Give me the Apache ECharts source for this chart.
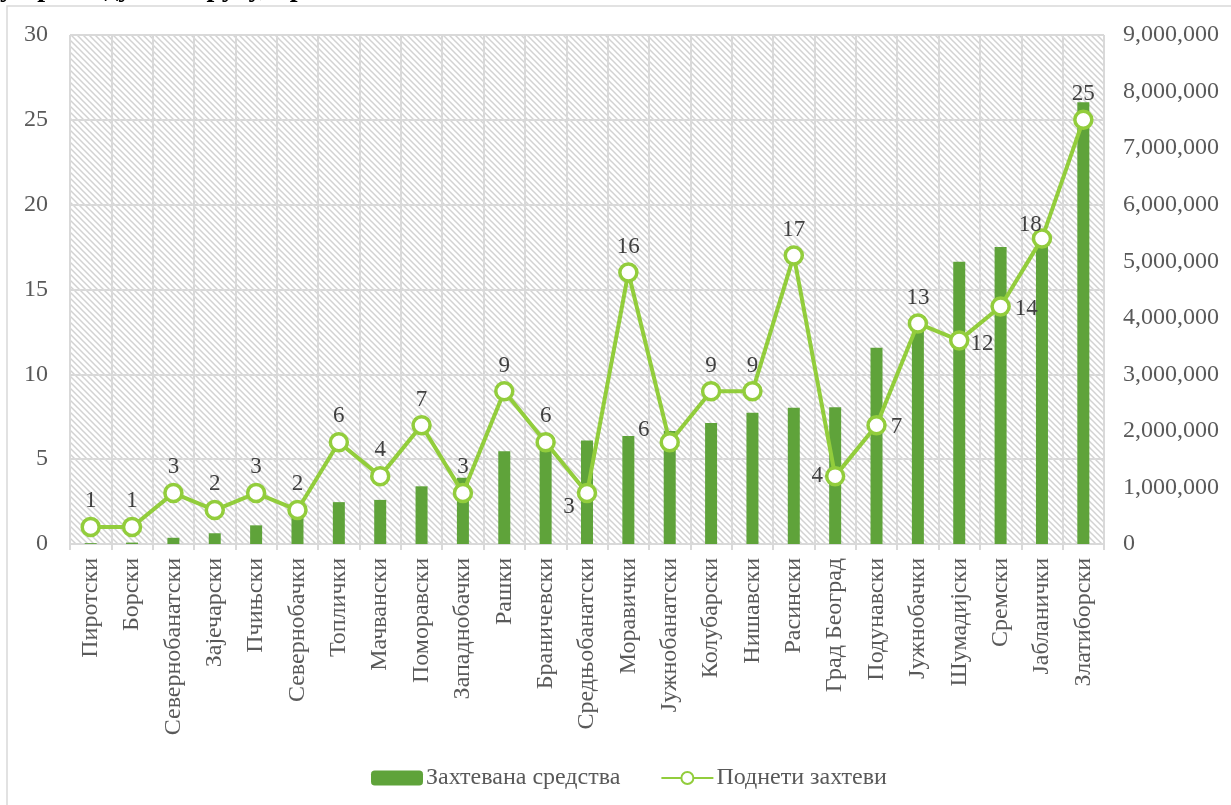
<!DOCTYPE html>
<html>
<head>
<meta charset="utf-8">
<style>
html,body{margin:0;padding:0;background:#fff;}
#chart{width:1231px;height:805px;}
</style>
<script src="https://cdn.jsdelivr.net/npm/echarts@6/dist/echarts.min.js"></script>
</head>
<body>
<div id="chart"></div>
<script>
const categories = ['Пиротски','Борски','Севернобанатски','Зајечарски','Пчињски','Севернобачки','Топлички','Мачвански','Поморавски','Западнобачки','Рашки','Браничевски','Средњобанатски','Моравички','Јужнобанатски','Колубарски','Нишавски','Расински','Град Београд','Подунавски','Јужнобачки','Шумадијски','Сремски','Јабланички','Златиборски'];
const requestedFunds = [15000,25000,110000,190000,330000,500000,740000,780000,1020000,1170000,1640000,1750000,1830000,1910000,2000000,2140000,2320000,2410000,2420000,3470000,3900000,4990000,5250000,5450000,7810000];
const submittedRequests = [1,1,3,2,3,2,6,4,7,3,9,6,3,16,6,9,9,17,4,7,13,12,14,18,25];
const leftTicks = {min:0,max:30,interval:5};
const rightTicks = {min:0,max:9000000,interval:1000000};
const seriesNames = ['Захтевана средства','Поднети захтеви'];

const FONT = "'Times New Roman','Liberation Serif',serif";

// hatch pattern
const pc = document.createElement('canvas');
pc.width = 6; pc.height = 6;
const pctx = pc.getContext('2d');
pctx.fillStyle = '#ffffff';
pctx.fillRect(0,0,6,6);
pctx.strokeStyle = '#d2d2d2';
pctx.lineWidth = 1.5;
pctx.beginPath();
pctx.moveTo(-1,-1); pctx.lineTo(7,7);
pctx.moveTo(-4,2); pctx.lineTo(4,10);
pctx.moveTo(2,-4); pctx.lineTo(10,4);
pctx.stroke();

const labelOverrides = {
  12: {position:'left', offset:[2,14]},
  14: {position:'left', offset:[-6,-12]},
  18: {position:'left', offset:[2,0]},
  19: {position:'right', offset:[0,2]},
  21: {position:'right', offset:[-3,4]},
  22: {position:'right', offset:[0,2]},
  23: {position:'left', offset:[14,-14]}
};
const lineData = submittedRequests.map((v,i)=>{
  const o = {value:v};
  if (labelOverrides[i]) o.label = labelOverrides[i];
  return o;
});

const chart = echarts.init(document.getElementById('chart'));
chart.setOption({
  animation:false,
  backgroundColor:'#ffffff',
  textStyle:{fontFamily:FONT},
  graphic:[
    {type:'rect', shape:{x:7,y:6,width:1240,height:820}, style:{fill:'none',stroke:'#d9d9d9',lineWidth:1.5}, silent:true},
    {type:'text', left:0, top:-25, style:{text:'у прегледу по округу, пр', font:"bold 28px "+FONT, fill:'#000'}, silent:true}
  ],
  grid:{left:70,right:127,top:35,bottom:261,show:true,backgroundColor:{image:pc,repeat:'repeat'},borderWidth:0},
  legend:{
    bottom:10,left:366,
    itemWidth:52,itemHeight:15,itemGap:40,
    textStyle:{fontSize:24,color:'#595959',fontFamily:FONT,padding:[0,0,0,-2]},
    data:seriesNames
  },
  xAxis:{
    type:'category',
    data:categories,
    boundaryGap:true,
    axisLine:{lineStyle:{color:'#d9d9d9',width:2}},
    axisTick:{show:true,length:6,lineStyle:{color:'#d9d9d9',width:2}},
    splitLine:{show:true,lineStyle:{color:'#d9d9d9',width:2}},
    axisLabel:{rotate:90,fontSize:24,color:'#595959',fontFamily:FONT,margin:14,interval:0}
  },
  yAxis:[
    {type:'value',min:leftTicks.min,max:leftTicks.max,interval:leftTicks.interval,
     axisLine:{show:false},axisTick:{show:false},
     splitLine:{lineStyle:{color:'#d9d9d9',width:2}},
     axisLabel:{fontSize:24,color:'#595959',fontFamily:FONT,margin:22}},
    {type:'value',min:rightTicks.min,max:rightTicks.max,interval:rightTicks.interval,
     axisLine:{show:false},axisTick:{show:false},splitLine:{show:false},
     axisLabel:{fontSize:24,color:'#595959',fontFamily:FONT,margin:19,
       formatter:v=>v.toLocaleString('en-US')}}
  ],
  series:[
    {name:seriesNames[0],type:'bar',yAxisIndex:1,data:requestedFunds,barWidth:12,
     itemStyle:{color:'#5fa33a'}},
    {name:seriesNames[1],type:'line',yAxisIndex:0,data:lineData,
     symbol:'circle',symbolSize:17,
     lineStyle:{color:'#92cd3c',width:4},
     itemStyle:{color:'#ffffff',borderColor:'#92cd3c',borderWidth:3.5},
     label:{show:true,position:'top',distance:4,fontSize:23,color:'#404040',fontFamily:FONT},
     z:5}
  ]
});
</script>
</body>
</html>
